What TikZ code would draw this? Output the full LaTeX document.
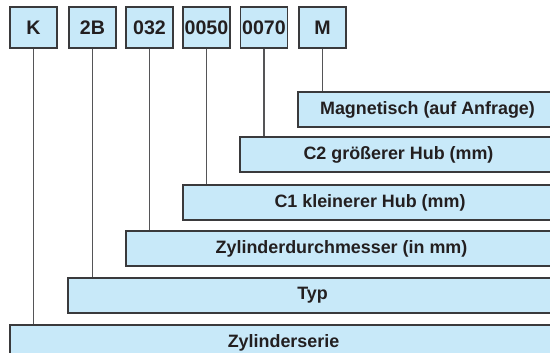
\documentclass[tikz,border=0pt]{standalone}
\usepackage{fontspec}
\setmainfont{Liberation Sans}
\definecolor{boxfill}{HTML}{C8E9F9}
\definecolor{boxline}{HTML}{3A3A3C}
\definecolor{txt}{HTML}{231F20}
\definecolor{conn}{HTML}{555557}
\tikzset{
  codebox/.style={draw=boxline, line width=1.2pt, fill=boxfill, text=txt,
    minimum width=47pt, minimum height=41pt, inner sep=0pt,
    font=\fontsize{19.6}{22}\selectfont\bfseries},
  descbox/.style={draw=boxline, line width=1.2pt, fill=boxfill, text=txt,
    inner sep=0pt, font=\fontsize{17.9}{20}\selectfont\bfseries},
  conline/.style={draw=conn, line width=1.1pt}
}
\begin{document}
\begin{tikzpicture}[x=1pt,y=-1pt]
\useasboundingbox (0,0) rectangle (550,353);
\clip (0,0) rectangle (550,353);
% top code boxes
\node[codebox] (k)   at (33.5,27.5)  {K};
\node[codebox] (tb)  at (92.5,27.5)  {2B};
\node[codebox] (d)   at (149.5,27.5) {032};
\node[codebox] (c1)  at (206.5,27.5) {0050};
\node[codebox] (c2)  at (264,27.5)   {0070};
\node[codebox] (m)   at (322.5,27.5) {M};
% description boxes (extend past right edge)
\node[descbox, minimum width=259pt, minimum height=35pt] (mag) at (427.5,109.5) {Magnetisch (auf Anfrage)};
\node[descbox, minimum width=317pt, minimum height=35pt] (hub2) at (398.5,154.5) {C2 größerer Hub (mm)};
\node[descbox, minimum width=374pt, minimum height=35pt] (hub1) at (370,202.5) {C1 kleinerer Hub (mm)};
\node[descbox, minimum width=431pt, minimum height=35pt] (dm) at (341.5,248.5) {Zylinderdurchmesser (in mm)};
\node[descbox, minimum width=489pt, minimum height=35pt] (typ) at (312.5,295.5) {Typ};
\node[descbox, minimum width=547pt, minimum height=35pt] (ser) at (283.5,342.5) {Zylinderserie};
% connectors
\draw[conline] (k.south)  -- (k.south |- ser.north);
\draw[conline] (tb.south) -- (tb.south |- typ.north);
\draw[conline] (d.south)  -- (d.south |- dm.north);
\draw[conline] (c1.south) -- (c1.south |- hub1.north);
\draw[conline] (c2.south) -- (c2.south |- hub2.north);
\draw[conline] (m.south)  -- (m.south |- mag.north);
\end{tikzpicture}
\end{document}
